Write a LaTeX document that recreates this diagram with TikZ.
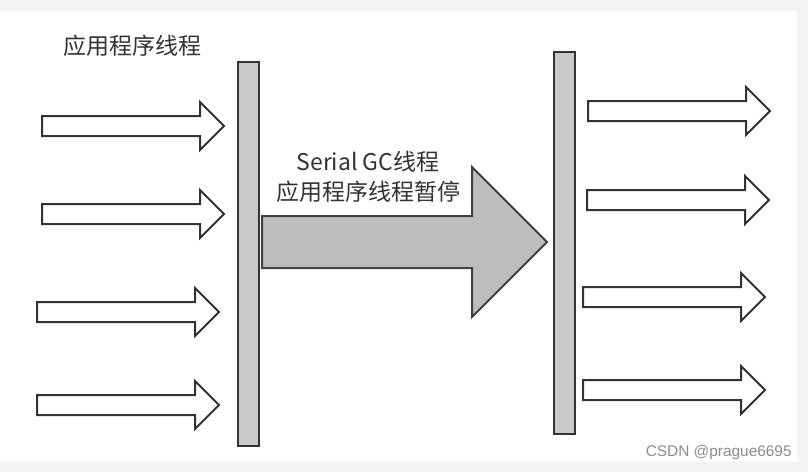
\documentclass[tikz,border=0pt]{standalone}
\usepackage{fontspec}
\usepackage{xcolor}
\usepackage{tikz}
\usetikzlibrary{shapes.arrows,positioning}
\newfontfamily\cjk{Noto Sans CJK SC}
\newfontfamily\wmfont{Liberation Sans}
\definecolor{pagegray}{HTML}{F3F3F5}
\definecolor{bargray}{HTML}{C9C9CB}
\definecolor{gcgray}{HTML}{BDBDBD}
\definecolor{inkgray}{HTML}{333333}

\begin{document}
\begin{tikzpicture}[
    x=0.5pt, y=-0.5pt,
    threadbar/.style={
        rectangle, draw=black!80, fill=bargray, line width=1pt,
        minimum width=10.5pt, inner sep=0pt, anchor=north west
    },
    thinarrow/.style={
        single arrow, draw=black!80, fill=white, line width=1pt,
        minimum height=91pt, inner xsep=0pt, inner ysep=4.5pt,
        single arrow head extend=7pt, single arrow tip angle=90,
        anchor=tail
    },
    gcarrow/.style={
        single arrow, draw=black!75, fill=gcgray, line width=1pt,
        minimum height=142.5pt, inner xsep=0pt, inner ysep=12.5pt,
        single arrow head extend=24.5pt, single arrow tip angle=90,
        anchor=tail
    },
    cjklabel/.style={font=\cjk\fontsize{11.5pt}{15pt}\selectfont, text=inkgray, align=center, inner sep=0pt}
]
    % page and panel
    \fill[pagegray] (0,0) rectangle (808,472);
    \fill[white] (0,11) rectangle (797,462);

    % stop-the-world bars
    \node[threadbar, minimum height=192pt] (leftbar) at (237,61) {};
    \node[threadbar, minimum height=191pt] (rightbar) at (553,51) {};

    % application threads before the pause
    \node[thinarrow] (in1) at (41,126) {};
    \node[thinarrow] (in2) at (41,214) {};
    \node[thinarrow] (in3) at (36,312) {};
    \node[thinarrow] (in4) at (36,405) {};

    % application threads after the pause
    \node[thinarrow] (out1) at (587,111) {};
    \node[thinarrow] (out2) at (586,200) {};
    \node[thinarrow] (out3) at (582,297) {};
    \node[thinarrow] (out4) at (582,390) {};

    % GC thread
    \node[gcarrow] (gc) at (261,242) {};

    % labels
    \node[cjklabel] (apptitle) at (132,46) {应用程序线程};
    \node[cjklabel] (gclabel) at (368,177) {Serial GC线程\\应用程序线程暂停};
    \node[font=\wmfont\fontsize{7.7pt}{9pt}\selectfont, text=black!45, anchor=east, inner sep=0pt]
        (mark) at (792,453) {CSDN @prague6695};
\end{tikzpicture}
\end{document}
